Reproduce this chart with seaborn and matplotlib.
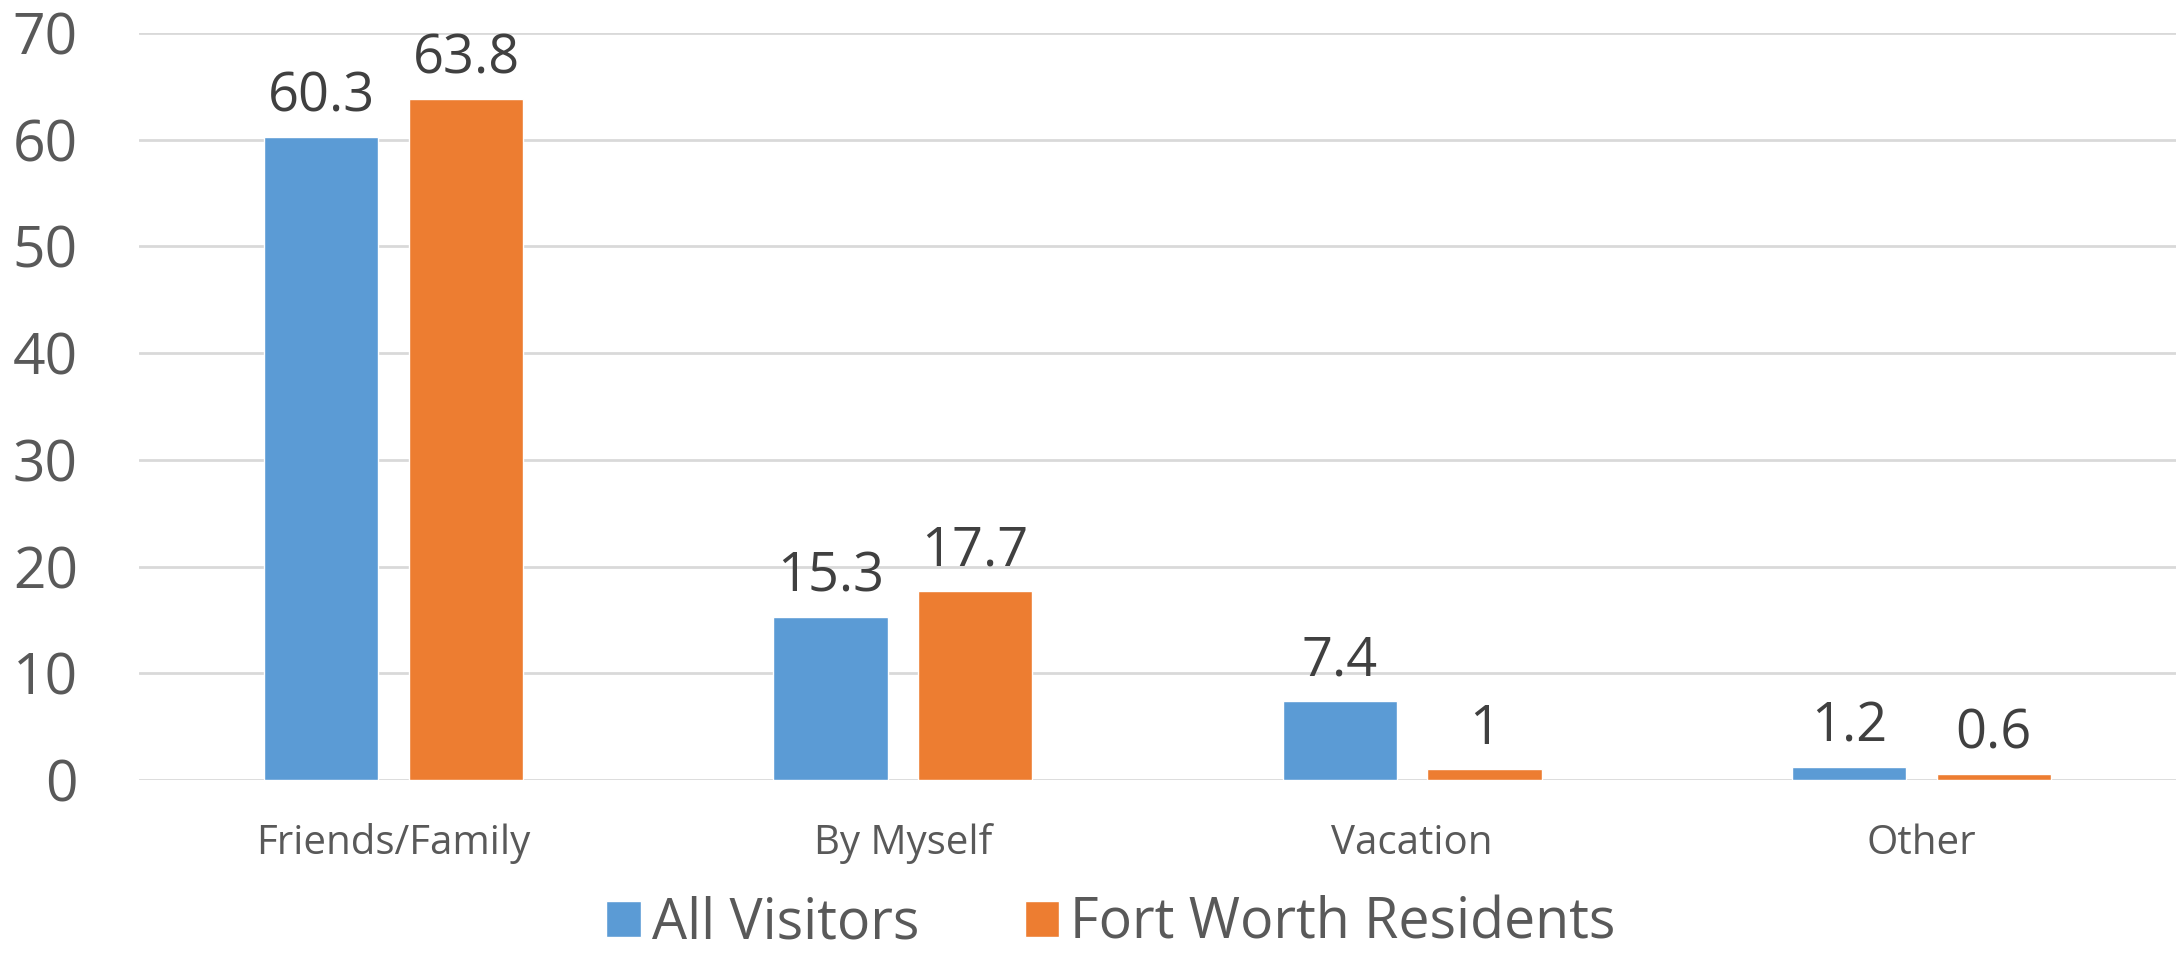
import pandas as pd
import numpy as np
import matplotlib.pyplot as plt
import seaborn as sns

categories = ['Friends/Family', 'By Myself', 'Vacation', 'Other']
all_visitors = [60.3, 15.3, 7.4, 1.2]
fort_worth = [63.8, 17.7, 1, 0.6]
series = ['All Visitors', 'Fort Worth Residents']
colors = ['#5B9BD5', '#ED7D31']

df = pd.DataFrame({
    'category': categories * 2,
    'value': all_visitors + fort_worth,
    'series': [series[0]] * len(categories) + [series[1]] * len(categories),
})

sns.set_style('white')
plt.rcParams['font.family'] = ['Open Sans', 'DejaVu Sans']

fig = plt.figure(figsize=(21.83, 9.56), dpi=100)
ax = fig.add_axes([0.0637, 0.184, 0.9331, 0.7815])

sns.barplot(data=df, x='category', y='value', hue='series', palette=colors,
            width=0.568, gap=0.21, ax=ax, saturation=1, legend=True)

# data labels
for cont in ax.containers:
    ax.bar_label(cont, labels=['{:g}'.format(v) for v in cont.datavalues],
                 padding=9, fontsize=39, color='#404040')

ax.set_ylim(0, 70)
ax.set_yticks(range(0, 71, 10))
ax.set_xlim(-0.5, 3.5)
ax.yaxis.grid(True, color='#D9D9D9', linewidth=2)
ax.set_axisbelow(True)
for s in ax.spines.values():
    s.set_visible(False)
ax.tick_params(axis='y', length=0, pad=44, labelsize=41, labelcolor='#595959')
ax.tick_params(axis='x', length=0, pad=31, labelsize=29, labelcolor='#595959')
ax.set_xlabel('')
ax.set_ylabel('')

ax.legend(loc='center', ncol=2, frameon=False, fontsize=40, labelcolor='#595959',
          handlelength=0.62, handleheight=0.62, handletextpad=0.2, columnspacing=1.9,
          borderpad=0.1)
leg = ax.get_legend()
leg.set_bbox_to_anchor((0.509, 0.033), transform=fig.transFigure)

fig.savefig('out.png', dpi=100)
